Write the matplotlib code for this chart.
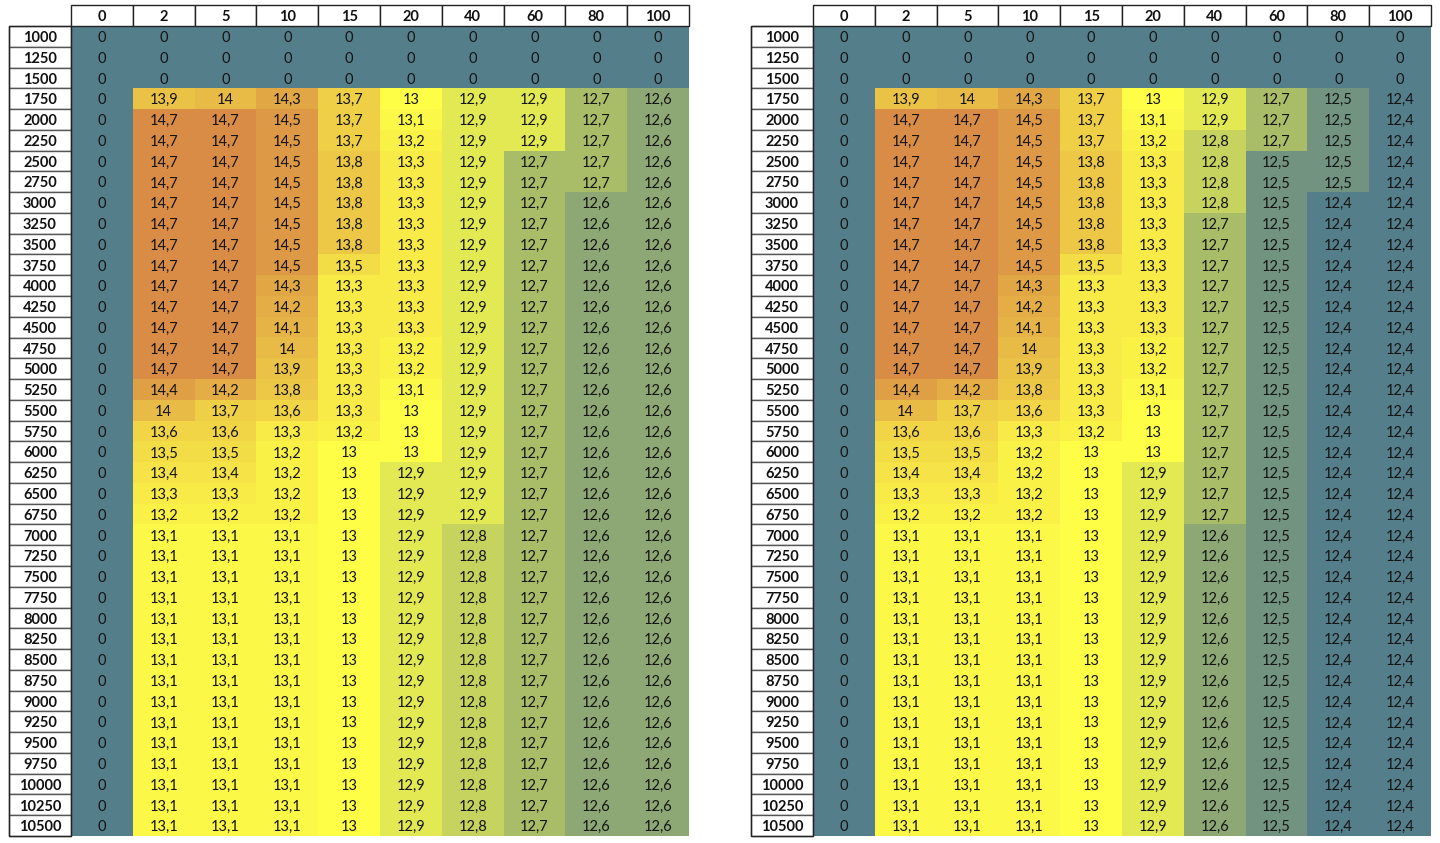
import matplotlib.pyplot as plt
import numpy as np
from matplotlib.colors import LinearSegmentedColormap, TwoSlopeNorm
from matplotlib.patches import Rectangle

plt.rcParams['font.family'] = ['Lato', 'DejaVu Sans']

# Colunas e linhas da tabela
colunas = [0, 2, 5, 10, 15, 20, 40, 60, 80, 100]
linhas = [1000, 1250, 1500, 1750, 2000, 2250, 2500, 2750, 3000, 3250,
          3500, 3750, 4000, 4250, 4500, 4750, 5000, 5250, 5500, 5750,
          6000, 6250, 6500, 6750, 7000, 7250, 7500, 7750, 8000, 8250,
          8500, 8750, 9000, 9250, 9500, 9750, 10000, 10250, 10500]

# Tabela da esquerda
tabela_esq = [
    [0, 0, 0, 0, 0, 0, 0, 0, 0, 0],
    [0, 0, 0, 0, 0, 0, 0, 0, 0, 0],
    [0, 0, 0, 0, 0, 0, 0, 0, 0, 0],
    [0, 13.9, 14.0, 14.3, 13.7, 13.0, 12.9, 12.9, 12.7, 12.6],
    [0, 14.7, 14.7, 14.5, 13.7, 13.1, 12.9, 12.9, 12.7, 12.6],
    [0, 14.7, 14.7, 14.5, 13.7, 13.2, 12.9, 12.9, 12.7, 12.6],
    [0, 14.7, 14.7, 14.5, 13.8, 13.3, 12.9, 12.7, 12.7, 12.6],
    [0, 14.7, 14.7, 14.5, 13.8, 13.3, 12.9, 12.7, 12.7, 12.6],
    [0, 14.7, 14.7, 14.5, 13.8, 13.3, 12.9, 12.7, 12.6, 12.6],
    [0, 14.7, 14.7, 14.5, 13.8, 13.3, 12.9, 12.7, 12.6, 12.6],
    [0, 14.7, 14.7, 14.5, 13.8, 13.3, 12.9, 12.7, 12.6, 12.6],
    [0, 14.7, 14.7, 14.5, 13.5, 13.3, 12.9, 12.7, 12.6, 12.6],
    [0, 14.7, 14.7, 14.3, 13.3, 13.3, 12.9, 12.7, 12.6, 12.6],
    [0, 14.7, 14.7, 14.2, 13.3, 13.3, 12.9, 12.7, 12.6, 12.6],
    [0, 14.7, 14.7, 14.1, 13.3, 13.3, 12.9, 12.7, 12.6, 12.6],
    [0, 14.7, 14.7, 14.0, 13.3, 13.2, 12.9, 12.7, 12.6, 12.6],
    [0, 14.7, 14.7, 13.9, 13.3, 13.2, 12.9, 12.7, 12.6, 12.6],
    [0, 14.4, 14.2, 13.8, 13.3, 13.1, 12.9, 12.7, 12.6, 12.6],
    [0, 14.0, 13.7, 13.6, 13.3, 13.0, 12.9, 12.7, 12.6, 12.6],
    [0, 13.6, 13.6, 13.3, 13.2, 13.0, 12.9, 12.7, 12.6, 12.6],
    [0, 13.5, 13.5, 13.2, 13.0, 13.0, 12.9, 12.7, 12.6, 12.6],
    [0, 13.4, 13.4, 13.2, 13.0, 12.9, 12.9, 12.7, 12.6, 12.6],
    [0, 13.3, 13.3, 13.2, 13.0, 12.9, 12.9, 12.7, 12.6, 12.6],
    [0, 13.2, 13.2, 13.2, 13.0, 12.9, 12.9, 12.7, 12.6, 12.6],
    [0, 13.1, 13.1, 13.1, 13.0, 12.9, 12.8, 12.7, 12.6, 12.6],
    [0, 13.1, 13.1, 13.1, 13.0, 12.9, 12.8, 12.7, 12.6, 12.6],
    [0, 13.1, 13.1, 13.1, 13.0, 12.9, 12.8, 12.7, 12.6, 12.6],
    [0, 13.1, 13.1, 13.1, 13.0, 12.9, 12.8, 12.7, 12.6, 12.6],
    [0, 13.1, 13.1, 13.1, 13.0, 12.9, 12.8, 12.7, 12.6, 12.6],
    [0, 13.1, 13.1, 13.1, 13.0, 12.9, 12.8, 12.7, 12.6, 12.6],
    [0, 13.1, 13.1, 13.1, 13.0, 12.9, 12.8, 12.7, 12.6, 12.6],
    [0, 13.1, 13.1, 13.1, 13.0, 12.9, 12.8, 12.7, 12.6, 12.6],
    [0, 13.1, 13.1, 13.1, 13.0, 12.9, 12.8, 12.7, 12.6, 12.6],
    [0, 13.1, 13.1, 13.1, 13.0, 12.9, 12.8, 12.7, 12.6, 12.6],
    [0, 13.1, 13.1, 13.1, 13.0, 12.9, 12.8, 12.7, 12.6, 12.6],
    [0, 13.1, 13.1, 13.1, 13.0, 12.9, 12.8, 12.7, 12.6, 12.6],
    [0, 13.1, 13.1, 13.1, 13.0, 12.9, 12.8, 12.7, 12.6, 12.6],
    [0, 13.1, 13.1, 13.1, 13.0, 12.9, 12.8, 12.7, 12.6, 12.6],
    [0, 13.1, 13.1, 13.1, 13.0, 12.9, 12.8, 12.7, 12.6, 12.6],
]

# Tabela da direita
tabela_dir = [
    [0, 0, 0, 0, 0, 0, 0, 0, 0, 0],
    [0, 0, 0, 0, 0, 0, 0, 0, 0, 0],
    [0, 0, 0, 0, 0, 0, 0, 0, 0, 0],
    [0, 13.9, 14.0, 14.3, 13.7, 13.0, 12.9, 12.7, 12.5, 12.4],
    [0, 14.7, 14.7, 14.5, 13.7, 13.1, 12.9, 12.7, 12.5, 12.4],
    [0, 14.7, 14.7, 14.5, 13.7, 13.2, 12.8, 12.7, 12.5, 12.4],
    [0, 14.7, 14.7, 14.5, 13.8, 13.3, 12.8, 12.5, 12.5, 12.4],
    [0, 14.7, 14.7, 14.5, 13.8, 13.3, 12.8, 12.5, 12.5, 12.4],
    [0, 14.7, 14.7, 14.5, 13.8, 13.3, 12.8, 12.5, 12.4, 12.4],
    [0, 14.7, 14.7, 14.5, 13.8, 13.3, 12.7, 12.5, 12.4, 12.4],
    [0, 14.7, 14.7, 14.5, 13.8, 13.3, 12.7, 12.5, 12.4, 12.4],
    [0, 14.7, 14.7, 14.5, 13.5, 13.3, 12.7, 12.5, 12.4, 12.4],
    [0, 14.7, 14.7, 14.3, 13.3, 13.3, 12.7, 12.5, 12.4, 12.4],
    [0, 14.7, 14.7, 14.2, 13.3, 13.3, 12.7, 12.5, 12.4, 12.4],
    [0, 14.7, 14.7, 14.1, 13.3, 13.3, 12.7, 12.5, 12.4, 12.4],
    [0, 14.7, 14.7, 14.0, 13.3, 13.2, 12.7, 12.5, 12.4, 12.4],
    [0, 14.7, 14.7, 13.9, 13.3, 13.2, 12.7, 12.5, 12.4, 12.4],
    [0, 14.4, 14.2, 13.8, 13.3, 13.1, 12.7, 12.5, 12.4, 12.4],
    [0, 14.0, 13.7, 13.6, 13.3, 13.0, 12.7, 12.5, 12.4, 12.4],
    [0, 13.6, 13.6, 13.3, 13.2, 13.0, 12.7, 12.5, 12.4, 12.4],
    [0, 13.5, 13.5, 13.2, 13.0, 13.0, 12.7, 12.5, 12.4, 12.4],
    [0, 13.4, 13.4, 13.2, 13.0, 12.9, 12.7, 12.5, 12.4, 12.4],
    [0, 13.3, 13.3, 13.2, 13.0, 12.9, 12.7, 12.5, 12.4, 12.4],
    [0, 13.2, 13.2, 13.2, 13.0, 12.9, 12.7, 12.5, 12.4, 12.4],
    [0, 13.1, 13.1, 13.1, 13.0, 12.9, 12.6, 12.5, 12.4, 12.4],
    [0, 13.1, 13.1, 13.1, 13.0, 12.9, 12.6, 12.5, 12.4, 12.4],
    [0, 13.1, 13.1, 13.1, 13.0, 12.9, 12.6, 12.5, 12.4, 12.4],
    [0, 13.1, 13.1, 13.1, 13.0, 12.9, 12.6, 12.5, 12.4, 12.4],
    [0, 13.1, 13.1, 13.1, 13.0, 12.9, 12.6, 12.5, 12.4, 12.4],
    [0, 13.1, 13.1, 13.1, 13.0, 12.9, 12.6, 12.5, 12.4, 12.4],
    [0, 13.1, 13.1, 13.1, 13.0, 12.9, 12.6, 12.5, 12.4, 12.4],
    [0, 13.1, 13.1, 13.1, 13.0, 12.9, 12.6, 12.5, 12.4, 12.4],
    [0, 13.1, 13.1, 13.1, 13.0, 12.9, 12.6, 12.5, 12.4, 12.4],
    [0, 13.1, 13.1, 13.1, 13.0, 12.9, 12.6, 12.5, 12.4, 12.4],
    [0, 13.1, 13.1, 13.1, 13.0, 12.9, 12.6, 12.5, 12.4, 12.4],
    [0, 13.1, 13.1, 13.1, 13.0, 12.9, 12.6, 12.5, 12.4, 12.4],
    [0, 13.1, 13.1, 13.1, 13.0, 12.9, 12.6, 12.5, 12.4, 12.4],
    [0, 13.1, 13.1, 13.1, 13.0, 12.9, 12.6, 12.5, 12.4, 12.4],
    [0, 13.1, 13.1, 13.1, 13.0, 12.9, 12.6, 12.5, 12.4, 12.4],
]

# Escala de cores tipo Excel: azul -> amarelo -> laranja
cmap = LinearSegmentedColormap.from_list(
    'escala', ['#557e8b', '#ffff48', '#d98c45'])
norm = TwoSlopeNorm(vmin=12.4, vcenter=13.0, vmax=14.7)


def formatar(v):
    if v == int(v):
        return str(int(v))
    return f'{v:.1f}'.replace('.', ',')


def desenhar_tabela(fig, x0, dados):
    W, H = 1440, 843
    ax = fig.add_axes([x0 / W, 1 - 836 / H, 618 / W, 810 / H])
    arr = np.array(dados, dtype=float)
    ax.imshow(arr, cmap=cmap, norm=norm, aspect='auto',
              interpolation='nearest')
    ax.set_xlim(-0.5, len(colunas) - 0.5)
    ax.set_ylim(len(linhas) - 0.5, -0.5)
    ax.axis('off')

    # valores nas células
    for i in range(len(linhas)):
        for j in range(len(colunas)):
            ax.text(j, i + 0.08, formatar(arr[i, j]), ha='center',
                    va='center', fontsize=10.5, color='#141414')

    # cabeçalho (colunas)
    hh = 21 / 20.77
    for j, c in enumerate(colunas):
        ax.add_patch(Rectangle((j - 0.5, -0.5 - hh), 1, hh, facecolor='white',
                               edgecolor='#222222', lw=1.0, clip_on=False))
        ax.text(j, -0.5 - hh / 2 + 0.08, str(c), ha='center', va='center',
                fontsize=10.5, fontweight='bold', color='#111111')

    # rótulos das linhas
    lw = 62 / 61.8
    for i, r in enumerate(linhas):
        ax.add_patch(Rectangle((-0.5 - lw, i - 0.5), lw, 1, facecolor='white',
                               edgecolor='#555555', lw=1.0, clip_on=False))
        ax.text(-0.5 - lw / 2, i + 0.08, str(r), ha='center', va='center',
                fontsize=10.5, fontweight='bold', color='#111111')
    ax.add_patch(Rectangle((-0.5 - lw, -0.5), lw, len(linhas), fill=False,
                           edgecolor='#222222', lw=1.0, clip_on=False))
    return ax


fig = plt.figure(figsize=(14.4, 8.43), dpi=100)
desenhar_tabela(fig, 71, tabela_esq)
desenhar_tabela(fig, 813, tabela_dir)
fig.savefig('out.png', dpi=100, facecolor='white')
plt.close(fig)
